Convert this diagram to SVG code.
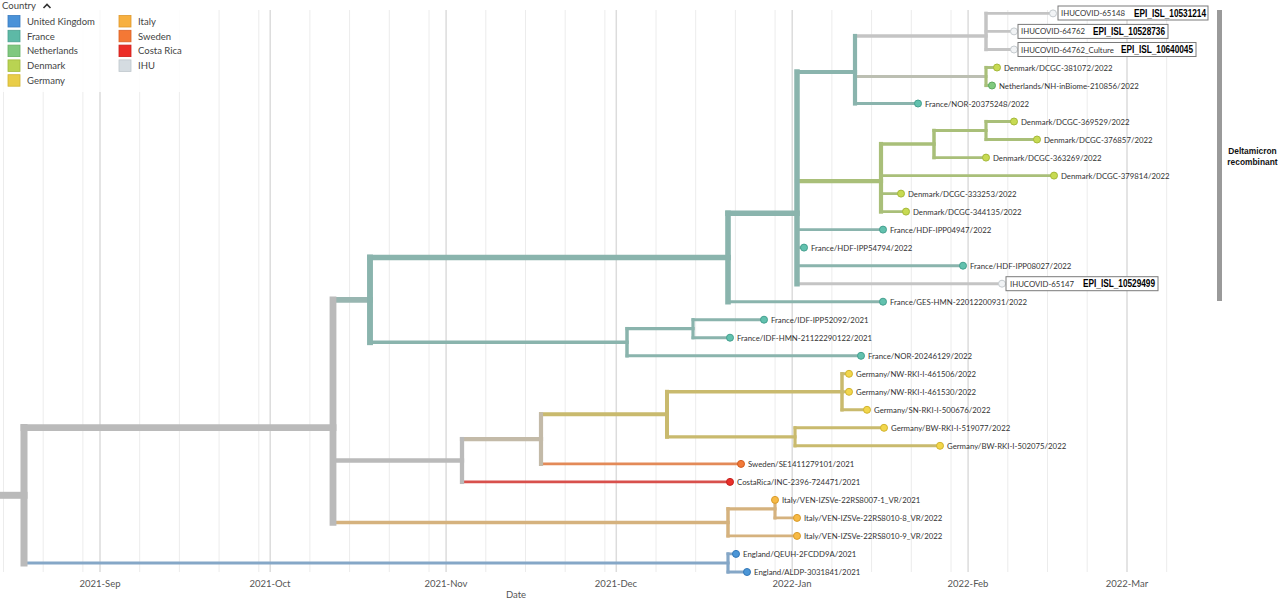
<svg xmlns="http://www.w3.org/2000/svg" width="1280" height="600" viewBox="0 0 1280 600">
<style>
.gM{stroke:#dcdcdc;stroke-width:1.5}
.gm{stroke:#ececec;stroke-width:1}
.br path{fill:none;stroke-linecap:square}
.g{stroke:#bababa}.t{stroke:#8ab4ad}.o{stroke:#a9bf79}.nl{stroke:#90c38a}.k{stroke:#c9ba6e}.n{stroke:#d5b27e}.b{stroke:#85a7c7}.s{stroke:#e38a58}.r{stroke:#d8504c}.i{stroke:#c4c4c4}.gt{stroke:#c3baa8}.go{stroke:#bcbfb2}.tg{stroke:#98b6b1}
.tip circle{stroke-width:1}
.cF{fill:#62c1ae;stroke:#45a08f}.cD{fill:#c7da52;stroke:#a5b93a}.cN{fill:#80c97e;stroke:#5ea95e}.cG{fill:#f2d64b;stroke:#d1b430}.cI{fill:#f7ba45;stroke:#d99b2a}.cS{fill:#f27a38;stroke:#d25c20}.cC{fill:#ea2f2a;stroke:#c4201c}.cU{fill:#4b96d7;stroke:#3478b8}.cH{fill:#f1f3f5;stroke:#c5cbcf}
.lab{font-family:Lato,"Liberation Sans",sans-serif;font-size:7.8px;fill:#333}
.ax{font-family:Lato,"Liberation Sans",sans-serif;font-size:9.5px;fill:#555;text-anchor:middle}
.leg{font-family:Lato,"Liberation Sans",sans-serif;font-size:9.5px;fill:#444}
.epi{font-family:"Liberation Sans",Arial,sans-serif;font-size:10px;font-weight:bold;fill:#000}
.box{fill:#fff;stroke:#7a7a7a;stroke-width:1}
.sw{stroke-width:0.8}
.dm{font-family:"Liberation Sans",Arial,sans-serif;font-size:8.4px;font-weight:bold;fill:#111;text-anchor:middle}
</style>
<rect width="1280" height="600" fill="#fff"/>
<g id="grid">
<path class="gM" d="M100,10V572M270.2,10V572M446.1,10V572M616.3,10V572M792.2,10V572M968.1,10V572M1127,10V572"/>
<path class="gm" d="M3.5,10V572M43.2,10V572M82.9,10V572M139.7,10V572M179.4,10V572M219.1,10V572M258.8,10V572M309.9,10V572M349.6,10V572M389.3,10V572M429,10V572M485.8,10V572M525.5,10V572M565.2,10V572M604.9,10V572M656,10V572M695.7,10V572M735.4,10V572M775.1,10V572M831.9,10V572M871.6,10V572M911.3,10V572M951,10V572M1007.8,10V572M1047.5,10V572M1087.2,10V572M1166.7,10V572"/>
</g>
<g id="axis">
<text class="ax" x="100" y="587">2021-Sep</text>
<text class="ax" x="270" y="587">2021-Oct</text>
<text class="ax" x="446" y="587">2021-Nov</text>
<text class="ax" x="616" y="587">2021-Dec</text>
<text class="ax" x="792" y="587">2022-Jan</text>
<text class="ax" x="968" y="587">2022-Feb</text>
<text class="ax" x="1127" y="587">2022-Mar</text>
<text class="ax" x="516" y="598">Date</text>
</g>
<g id="connectors" class="br">
<path class="g" stroke-width="7" d="M2,495.3H24"/>
<path class="g" stroke-width="6.8" d="M24,427.6H333"/>
<path class="b" stroke-width="3.2" d="M24,563H728"/>
<path class="b" stroke-width="2.9" d="M728,553.9H736M728,572H747"/>
<path class="tg" stroke-width="5.9" d="M333,299.9H370"/>
<path class="t" stroke-width="5.6" d="M370,257.5H728"/>
<path class="t" stroke-width="5.5" d="M728,213.3H797"/>
<path class="t" stroke-width="2.9" d="M728,301.7H883"/>
<path class="t" stroke-width="4.2" d="M797,72H855"/>
<path class="i" stroke-width="3.5" d="M855,36H986"/>
<path class="i" stroke-width="2.9" d="M986,13.4H1053M986,31.4H1014M986,49.5H1014"/>
<path class="go" stroke-width="3.2" d="M855,76.5H986"/>
<path class="o" stroke-width="2.9" d="M986,67.5H997"/>
<path class="nl" stroke-width="2.9" d="M986,85.5H992"/>
<path class="t" stroke-width="2.9" d="M855,103.5H918"/>
<path class="o" stroke-width="4.2" d="M797,181.2H881"/>
<path class="o" stroke-width="3.5" d="M881,144H934"/>
<path class="o" stroke-width="3.2" d="M934,130.5H986"/>
<path class="o" stroke-width="2.9" d="M986,121.5H1014M986,139.5H1037M934,157.6H986M881,175.6H1054M881,193.6H901M881,211.6H906"/>
<path class="t" stroke-width="2.9" d="M797,229.6H883M797,247.6H804M797,265.7H963"/>
<path class="i" stroke-width="2.9" d="M797,283.7H1002"/>
<path class="t" stroke-width="3.5" d="M370,342.2H627"/>
<path class="t" stroke-width="3.2" d="M627,328.7H693"/>
<path class="t" stroke-width="2.9" d="M693,319.7H764M693,337.7H730M627,355.8H861"/>
<path class="g" stroke-width="4.3" d="M333,460.5H462"/>
<path class="gt" stroke-width="4.2" d="M462,439.1H541"/>
<path class="k" stroke-width="4" d="M541,414.3H667"/>
<path class="k" stroke-width="3.5" d="M667,391.8H842"/>
<path class="k" stroke-width="2.9" d="M842,373.8H849M842,391.8H849M842,409.8H867"/>
<path class="k" stroke-width="3.2" d="M667,436.8H795"/>
<path class="k" stroke-width="2.9" d="M795,427.8H884M795,445.8H940"/>
<path class="s" stroke-width="2.9" d="M541,463.9H741"/>
<path class="r" stroke-width="2.9" d="M462,481.9H730"/>
<path class="n" stroke-width="3.5" d="M333,522.4H728"/>
<path class="n" stroke-width="3.2" d="M728,508.9H775"/>
<path class="n" stroke-width="2.9" d="M775,517.9H797M728,535.9H797"/>
<path class="g" stroke-width="7" d="M24,427.6V563"/>
<path class="b" stroke-width="3.2" d="M728,553.9V572"/>
<path class="g" stroke-width="6.8" d="M333,299.9V522.4"/>
<path class="t" stroke-width="5.9" d="M370,257.5V342.2"/>
<path class="t" stroke-width="5.6" d="M728,213.3V301.7"/>
<path class="t" stroke-width="5.5" d="M797,72V283.7"/>
<path class="t" stroke-width="4.2" d="M855,36V103.5"/>
<path class="i" stroke-width="3.5" d="M986,13.4V49.5"/>
<path class="o" stroke-width="3.2" d="M986,67.5V85.5"/>
<path class="o" stroke-width="4.2" d="M881,144V211.6"/>
<path class="o" stroke-width="3.5" d="M934,130.5V157.6"/>
<path class="o" stroke-width="3.2" d="M986,121.5V139.5"/>
<path class="t" stroke-width="3.5" d="M627,328.7V355.8"/>
<path class="t" stroke-width="3.2" d="M693,319.7V337.7"/>
<path class="g" stroke-width="4.3" d="M462,439.1V481.9"/>
<path class="gt" stroke-width="4.2" d="M541,414.3V463.9"/>
<path class="k" stroke-width="4" d="M667,391.8V436.8"/>
<path class="k" stroke-width="3.5" d="M842,373.8V409.8"/>
<path class="k" stroke-width="3.2" d="M795,427.8V445.8"/>
<path class="n" stroke-width="3.5" d="M728,508.9V535.9"/>
<path class="n" stroke-width="3.2" d="M775,499.9V517.9"/>
</g>
<g id="tip-IHUCOVID-65148" class="tip"><circle class="cH" cx="1053" cy="13.4" r="3.5"/><rect class="box" x="1058" y="6" width="150" height="14"/><text class="lab" x="1061" y="16.4">IHUCOVID-65148</text><text class="epi" x="1134" y="17" textLength="72" lengthAdjust="spacingAndGlyphs">EPI_ISL_10531214</text></g>
<g id="tip-IHUCOVID-64762" class="tip"><circle class="cH" cx="1014" cy="31.4" r="3.5"/><rect class="box" x="1018" y="24.4" width="150" height="14"/><text class="lab" x="1021" y="34.4">IHUCOVID-64762</text><text class="epi" x="1093" y="35" textLength="72" lengthAdjust="spacingAndGlyphs">EPI_ISL_10528736</text></g>
<g id="tip-IHUCOVID-64762_Culture" class="tip"><circle class="cH" cx="1014" cy="49.5" r="3.5"/><rect class="box" x="1018" y="42.5" width="178" height="14"/><text class="lab" x="1021" y="52.5">IHUCOVID-64762_Culture</text><text class="epi" x="1121" y="53.1" textLength="72" lengthAdjust="spacingAndGlyphs">EPI_ISL_10640045</text></g>
<g id="tip-DK-381072" class="tip"><circle class="cD" cx="997" cy="67.5" r="3.5"/><text class="lab" x="1004" y="70.5">Denmark/DCGC-381072/2022</text></g>
<g id="tip-NL-210856" class="tip"><circle class="cN" cx="992" cy="85.5" r="3.5"/><text class="lab" x="999" y="88.5">Netherlands/NH-inBiome-210856/2022</text></g>
<g id="tip-FR-NOR-20375248" class="tip"><circle class="cF" cx="918" cy="103.5" r="3.5"/><text class="lab" x="925" y="106.5">France/NOR-20375248/2022</text></g>
<g id="tip-DK-369529" class="tip"><circle class="cD" cx="1014" cy="121.5" r="3.5"/><text class="lab" x="1021" y="124.5">Denmark/DCGC-369529/2022</text></g>
<g id="tip-DK-376857" class="tip"><circle class="cD" cx="1037" cy="139.5" r="3.5"/><text class="lab" x="1044" y="142.5">Denmark/DCGC-376857/2022</text></g>
<g id="tip-DK-363269" class="tip"><circle class="cD" cx="986" cy="157.6" r="3.5"/><text class="lab" x="993" y="160.6">Denmark/DCGC-363269/2022</text></g>
<g id="tip-DK-379814" class="tip"><circle class="cD" cx="1054" cy="175.6" r="3.5"/><text class="lab" x="1061" y="178.6">Denmark/DCGC-379814/2022</text></g>
<g id="tip-DK-333253" class="tip"><circle class="cD" cx="901" cy="193.6" r="3.5"/><text class="lab" x="908" y="196.6">Denmark/DCGC-333253/2022</text></g>
<g id="tip-DK-344135" class="tip"><circle class="cD" cx="906" cy="211.6" r="3.5"/><text class="lab" x="913" y="214.6">Denmark/DCGC-344135/2022</text></g>
<g id="tip-FR-HDF-IPP04947" class="tip"><circle class="cF" cx="883" cy="229.6" r="3.5"/><text class="lab" x="890" y="232.6">France/HDF-IPP04947/2022</text></g>
<g id="tip-FR-HDF-IPP54794" class="tip"><circle class="cF" cx="804" cy="247.6" r="3.5"/><text class="lab" x="811" y="250.6">France/HDF-IPP54794/2022</text></g>
<g id="tip-FR-HDF-IPP08027" class="tip"><circle class="cF" cx="963" cy="265.7" r="3.5"/><text class="lab" x="970" y="268.7">France/HDF-IPP08027/2022</text></g>
<g id="tip-IHUCOVID-65147" class="tip"><circle class="cH" cx="1002" cy="283.7" r="3.5"/><rect class="box" x="1006" y="276.7" width="152" height="14"/><text class="lab" x="1010" y="286.7">IHUCOVID-65147</text><text class="epi" x="1083" y="287.3" textLength="72" lengthAdjust="spacingAndGlyphs">EPI_ISL_10529499</text></g>
<g id="tip-FR-GES-HMN" class="tip"><circle class="cF" cx="883" cy="301.7" r="3.5"/><text class="lab" x="890" y="304.7">France/GES-HMN-22012200931/2022</text></g>
<g id="tip-FR-IDF-IPP52092" class="tip"><circle class="cF" cx="764" cy="319.7" r="3.5"/><text class="lab" x="771" y="322.7">France/IDF-IPP52092/2021</text></g>
<g id="tip-FR-IDF-HMN" class="tip"><circle class="cF" cx="730" cy="337.7" r="3.5"/><text class="lab" x="737" y="340.7">France/IDF-HMN-21122290122/2021</text></g>
<g id="tip-FR-NOR-20246129" class="tip"><circle class="cF" cx="861" cy="355.8" r="3.5"/><text class="lab" x="868" y="358.8">France/NOR-20246129/2022</text></g>
<g id="tip-DE-461506" class="tip"><circle class="cG" cx="849" cy="373.8" r="3.5"/><text class="lab" x="856" y="376.8">Germany/NW-RKI-I-461506/2022</text></g>
<g id="tip-DE-461530" class="tip"><circle class="cG" cx="849" cy="391.8" r="3.5"/><text class="lab" x="856" y="394.8">Germany/NW-RKI-I-461530/2022</text></g>
<g id="tip-DE-500676" class="tip"><circle class="cG" cx="867" cy="409.8" r="3.5"/><text class="lab" x="874" y="412.8">Germany/SN-RKI-I-500676/2022</text></g>
<g id="tip-DE-519077" class="tip"><circle class="cG" cx="884" cy="427.8" r="3.5"/><text class="lab" x="891" y="430.8">Germany/BW-RKI-I-519077/2022</text></g>
<g id="tip-DE-502075" class="tip"><circle class="cG" cx="940" cy="445.8" r="3.5"/><text class="lab" x="947" y="448.8">Germany/BW-RKI-I-502075/2022</text></g>
<g id="tip-SE" class="tip"><circle class="cS" cx="741" cy="463.9" r="3.5"/><text class="lab" x="748" y="466.9">Sweden/SE1411279101/2021</text></g>
<g id="tip-CR" class="tip"><circle class="cC" cx="730" cy="481.9" r="3.5"/><text class="lab" x="737" y="484.9">CostaRica/INC-2396-724471/2021</text></g>
<g id="tip-IT-8007-1" class="tip"><circle class="cI" cx="775" cy="499.9" r="3.5"/><text class="lab" x="782" y="502.9">Italy/VEN-IZSVe-22RS8007-1_VR/2021</text></g>
<g id="tip-IT-8010-8" class="tip"><circle class="cI" cx="797" cy="517.9" r="3.5"/><text class="lab" x="804" y="520.9">Italy/VEN-IZSVe-22RS8010-8_VR/2022</text></g>
<g id="tip-IT-8010-9" class="tip"><circle class="cI" cx="797" cy="535.9" r="3.5"/><text class="lab" x="804" y="538.9">Italy/VEN-IZSVe-22RS8010-9_VR/2022</text></g>
<g id="tip-EN-QEUH" class="tip"><circle class="cU" cx="736" cy="553.9" r="3.5"/><text class="lab" x="743" y="556.9">England/QEUH-2FCDD9A/2021</text></g>
<g id="tip-EN-ALDP" class="tip"><circle class="cU" cx="747" cy="572" r="3.5"/><text class="lab" x="754" y="575">England/ALDP-3031841/2021</text></g>
<g id="deltamicron">
<rect x="1217" y="10" width="5" height="291" fill="#9a9a9a"/>
<text class="dm" x="1252.5" y="154">Deltamicron</text>
<text class="dm" x="1252.5" y="165">recombinant</text>
</g>
<g id="legend">
<rect x="0" y="0" width="205" height="92" fill="#fff" opacity="0.85"/>
<text class="leg" x="2" y="9">Country</text>
<polyline points="43.5,8 47,4.5 50.5,8" fill="none" stroke="#333" stroke-width="1.6"/>
<rect class="sw" x="8" y="15.5" width="12" height="11.5" fill="#4a92d8" stroke="#3a7cc0"/><text class="leg" x="27" y="24.8">United Kingdom</text>
<rect class="sw" x="8" y="30.3" width="12" height="11.5" fill="#5db9a6" stroke="#4aa090"/><text class="leg" x="27" y="39.6">France</text>
<rect class="sw" x="8" y="45.1" width="12" height="11.5" fill="#80c880" stroke="#66b066"/><text class="leg" x="27" y="54.4">Netherlands</text>
<rect class="sw" x="8" y="59.9" width="12" height="11.5" fill="#b9d352" stroke="#a0ba3c"/><text class="leg" x="27" y="69.2">Denmark</text>
<rect class="sw" x="8" y="74.7" width="12" height="11.5" fill="#e9cd48" stroke="#d0b434"/><text class="leg" x="27" y="84">Germany</text>
<rect class="sw" x="119" y="15.5" width="12" height="11.5" fill="#f7b040" stroke="#de982c"/><text class="leg" x="138" y="24.8">Italy</text>
<rect class="sw" x="119" y="30.3" width="12" height="11.5" fill="#f47835" stroke="#da6024"/><text class="leg" x="138" y="39.6">Sweden</text>
<rect class="sw" x="119" y="45.1" width="12" height="11.5" fill="#ec2e28" stroke="#cc1e1a"/><text class="leg" x="138" y="54.4">Costa Rica</text>
<rect class="sw" x="119" y="59.9" width="12" height="11.5" fill="#d5dce1" stroke="#bfc7cc"/><text class="leg" x="138" y="69.2">IHU</text>
</g>
</svg>
